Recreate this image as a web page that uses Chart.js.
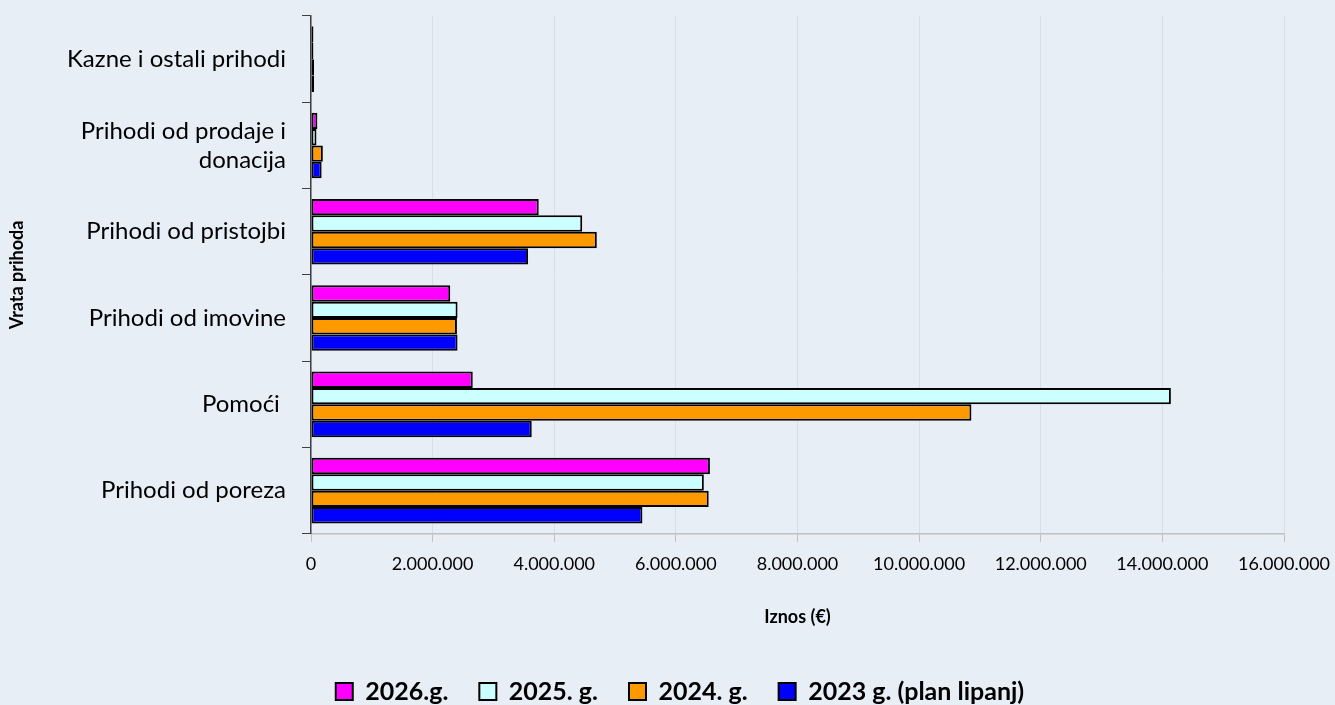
<!DOCTYPE html>
<html>
<head>
<meta charset="utf-8">
<script src="https://cdn.jsdelivr.net/npm/chart.js@4/dist/chart.umd.min.js"></script>
<style>
  html, body { margin: 0; padding: 0; background: #E8EEF6; overflow: hidden; }
  #wrap { width: 1335px; height: 705px; overflow: hidden; }
</style>
</head>
<body>
<div id="wrap"><canvas id="myChart" width="1335" height="714"></canvas></div>
<script>
// categories (top to bottom)
var categories = [
  'Kazne i ostali prihodi',
  ['Prihodi od prodaje i', 'donacija'],
  'Prihodi od pristojbi',
  'Prihodi od imovine',
  'Pomoći ',
  'Prihodi od poreza'
];

// series values (€)
var values2026 = [40000, 105000, 3745000, 2290000, 2660000, 6560000];
var values2025 = [40000, 90000, 4460000, 2410000, 14140000, 6460000];
var values2024 = [50000, 195000, 4700000, 2400000, 10860000, 6540000];
var values2023 = [50000, 175000, 3570000, 2410000, 3630000, 5450000];

var seriesLabels = ['2026.g.', '2025. g.', '2024. g.', '2023 g. (plan lipanj)'];
var seriesColors = ['#FF00FF', '#CCFFFF', '#FF9900', '#0000FF'];

function dotted(n) {
  return String(n).replace(/\B(?=(\d{3})+(?!\d))/g, '.');
}

// legend sits a bit right of centre in the original
var shiftLegend = {
  id: 'shiftLegend',
  afterLayout: function (chart) {
    if (chart.legend) {
      chart.legend.left += 38;
      chart.legend.right += 38;
    }
  }
};

document.addEventListener('DOMContentLoaded', function () {
  var ctx = document.getElementById('myChart').getContext('2d');
  var allValues = [values2026, values2025, values2024, values2023];

  var datasets = allValues.map(function (vals, i) {
    return {
      label: seriesLabels[i],
      data: vals,
      backgroundColor: seriesColors[i],
      borderColor: '#000000',
      borderWidth: 2,
      borderSkipped: false,
      categoryPercentage: 0.76,
      barPercentage: 1
    };
  });

  var myChart = new Chart(ctx, {
    type: 'bar',
    data: { labels: categories, datasets: datasets },
    plugins: [shiftLegend],
    options: {
      indexAxis: 'y',
      responsive: false,
      animation: false,
      layout: { padding: { top: 16, right: 51, left: 0, bottom: 0 } },
      plugins: {
        tooltip: { enabled: false },
        legend: {
          position: 'bottom',
          labels: {
            font: { family: 'Lato', size: 25, weight: 'bold' },
            color: '#000000',
            boxWidth: 17,
            boxHeight: 17,
            padding: 31,
            useBorderRadius: false
          }
        }
      },
      scales: {
        x: {
          min: 0,
          max: 16000000,
          ticks: {
            stepSize: 2000000,
            color: '#000000',
            font: { family: 'Lato', size: 18 },
            padding: 12,
            callback: function (v) { return dotted(v); }
          },
          grid: { color: '#D6DEE8', tickColor: '#BFBFBF', tickLength: 8, lineWidth: 1 },
          border: { color: '#BFBFBF', width: 1.5 },
          title: {
            display: true,
            text: 'Iznos (€)',
            color: '#000000',
            font: { family: 'Lato', size: 18, weight: 'bold' },
            padding: { top: 19, bottom: 20 }
          },
          afterFit: function (scale) { scale.paddingLeft = 0; scale.paddingRight = 0; }
        },
        y: {
          ticks: {
            color: '#000000',
            font: { family: 'Lato', size: 24 },
            padding: 16
          },
          grid: { drawOnChartArea: false, tickLength: 9, color: '#404040', offset: true },
          border: { color: '#404040', width: 1.5 },
          title: {
            display: true,
            text: 'Vrata prihoda',
            color: '#000000',
            font: { family: 'Lato', size: 18, weight: 'bold' },
            padding: { top: 6, bottom: 0 }
          },
          afterFit: function (scale) {
            scale.width = 311;
            scale.paddingTop = 0;
            scale.paddingBottom = 0;
          }
        }
      }
    }
  });
});
</script>
</body>
</html>
